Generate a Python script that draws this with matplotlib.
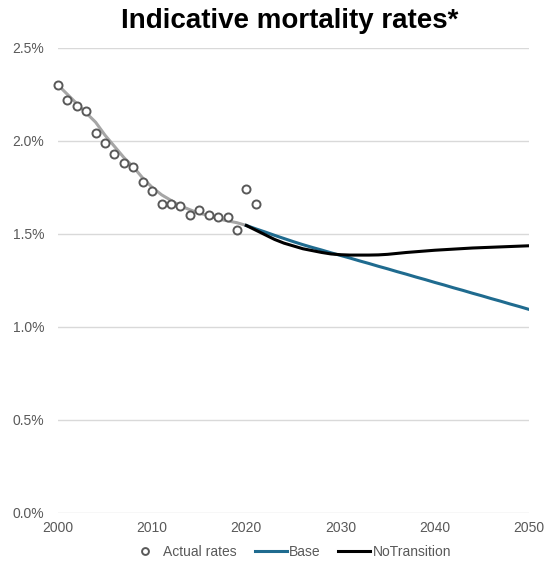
import numpy as np
import matplotlib
matplotlib.use("Agg")
from matplotlib import pyplot as plt
from matplotlib.ticker import FuncFormatter

plt.rcParams['font.family'] = ['Liberation Sans', 'DejaVu Sans']

# actual observed rates (%)
actual_years = list(range(2000, 2022))
actual_rates = [2.30, 2.22, 2.19, 2.16, 2.04, 1.99, 1.93, 1.88, 1.86, 1.78, 1.73,
                1.66, 1.66, 1.65, 1.60, 1.63, 1.60, 1.59, 1.59, 1.52, 1.74, 1.66]

# smoothed historic trend (%)
trend_years = list(range(2000, 2021))
trend_rates = [2.30, 2.25, 2.20, 2.15, 2.10, 2.03, 1.97, 1.91, 1.86, 1.80, 1.75,
               1.71, 1.68, 1.65, 1.63, 1.61, 1.60, 1.58, 1.57, 1.56, 1.545]

# projections (%)
proj_years = list(range(2020, 2051))
base = [1.545, 1.527, 1.510, 1.492, 1.475, 1.458, 1.442, 1.427, 1.413, 1.398, 1.384,
        1.370, 1.355, 1.341, 1.326, 1.312, 1.297, 1.283, 1.268, 1.254, 1.239,
        1.225, 1.210, 1.196, 1.181, 1.167, 1.152, 1.138, 1.123, 1.109, 1.094]
no_transition = [1.545, 1.520, 1.495, 1.470, 1.450, 1.435, 1.420, 1.410, 1.400, 1.392, 1.388,
                 1.386, 1.386, 1.386, 1.387, 1.390, 1.395, 1.400, 1.404, 1.408, 1.412,
                 1.415, 1.418, 1.421, 1.424, 1.426, 1.428, 1.430, 1.432, 1.434, 1.436]

fig = plt.figure(figsize=(5.47, 5.63), dpi=100)
ax = fig.add_axes([0.106, 0.089, 0.861, 0.826])

ax.plot(trend_years, trend_rates, color='#a6a6a6', linewidth=2.2, zorder=2)
ax.plot(proj_years, base, color='#1f6b8f', linewidth=2.2, zorder=3, label='Base')
ax.plot(proj_years, no_transition, color='black', linewidth=2.2, zorder=4, label='NoTransition')
ax.plot(actual_years, actual_rates, 'o', markersize=5.8, markerfacecolor='white',
        markeredgecolor='#595959', markeredgewidth=1.4, zorder=5, label='Actual rates',
        clip_on=False)

ax.set_xlim(2000, 2050)
ax.set_ylim(0, 2.5)
ax.set_xticks([2000, 2010, 2020, 2030, 2040, 2050])
ax.set_yticks([0, 0.5, 1.0, 1.5, 2.0, 2.5])
ax.yaxis.set_major_formatter(FuncFormatter(lambda v, p: '%.1f%%' % v))
ax.grid(axis='y', color='#d9d9d9', linewidth=1)
ax.set_axisbelow(True)
for s in ax.spines.values():
    s.set_visible(False)
ax.tick_params(axis='both', length=0, labelsize=10, colors='#595959', pad=6)
ax.tick_params(axis='y', pad=10)

fig.text(0.53, 0.962, 'Indicative mortality rates*', ha='center', va='center',
         fontsize=20, fontweight='bold')

h, l = ax.get_legend_handles_labels()
order = [2, 0, 1]
fig.legend([h[i] for i in order], [l[i] for i in order], loc='center',
           bbox_to_anchor=(0.53, 0.02), ncol=3, frameon=False, fontsize=10,
           labelcolor='#595959', handlelength=2.3, handletextpad=0.15,
           columnspacing=1.3, markerscale=0.85)

plt.savefig('out.png', dpi=100)
